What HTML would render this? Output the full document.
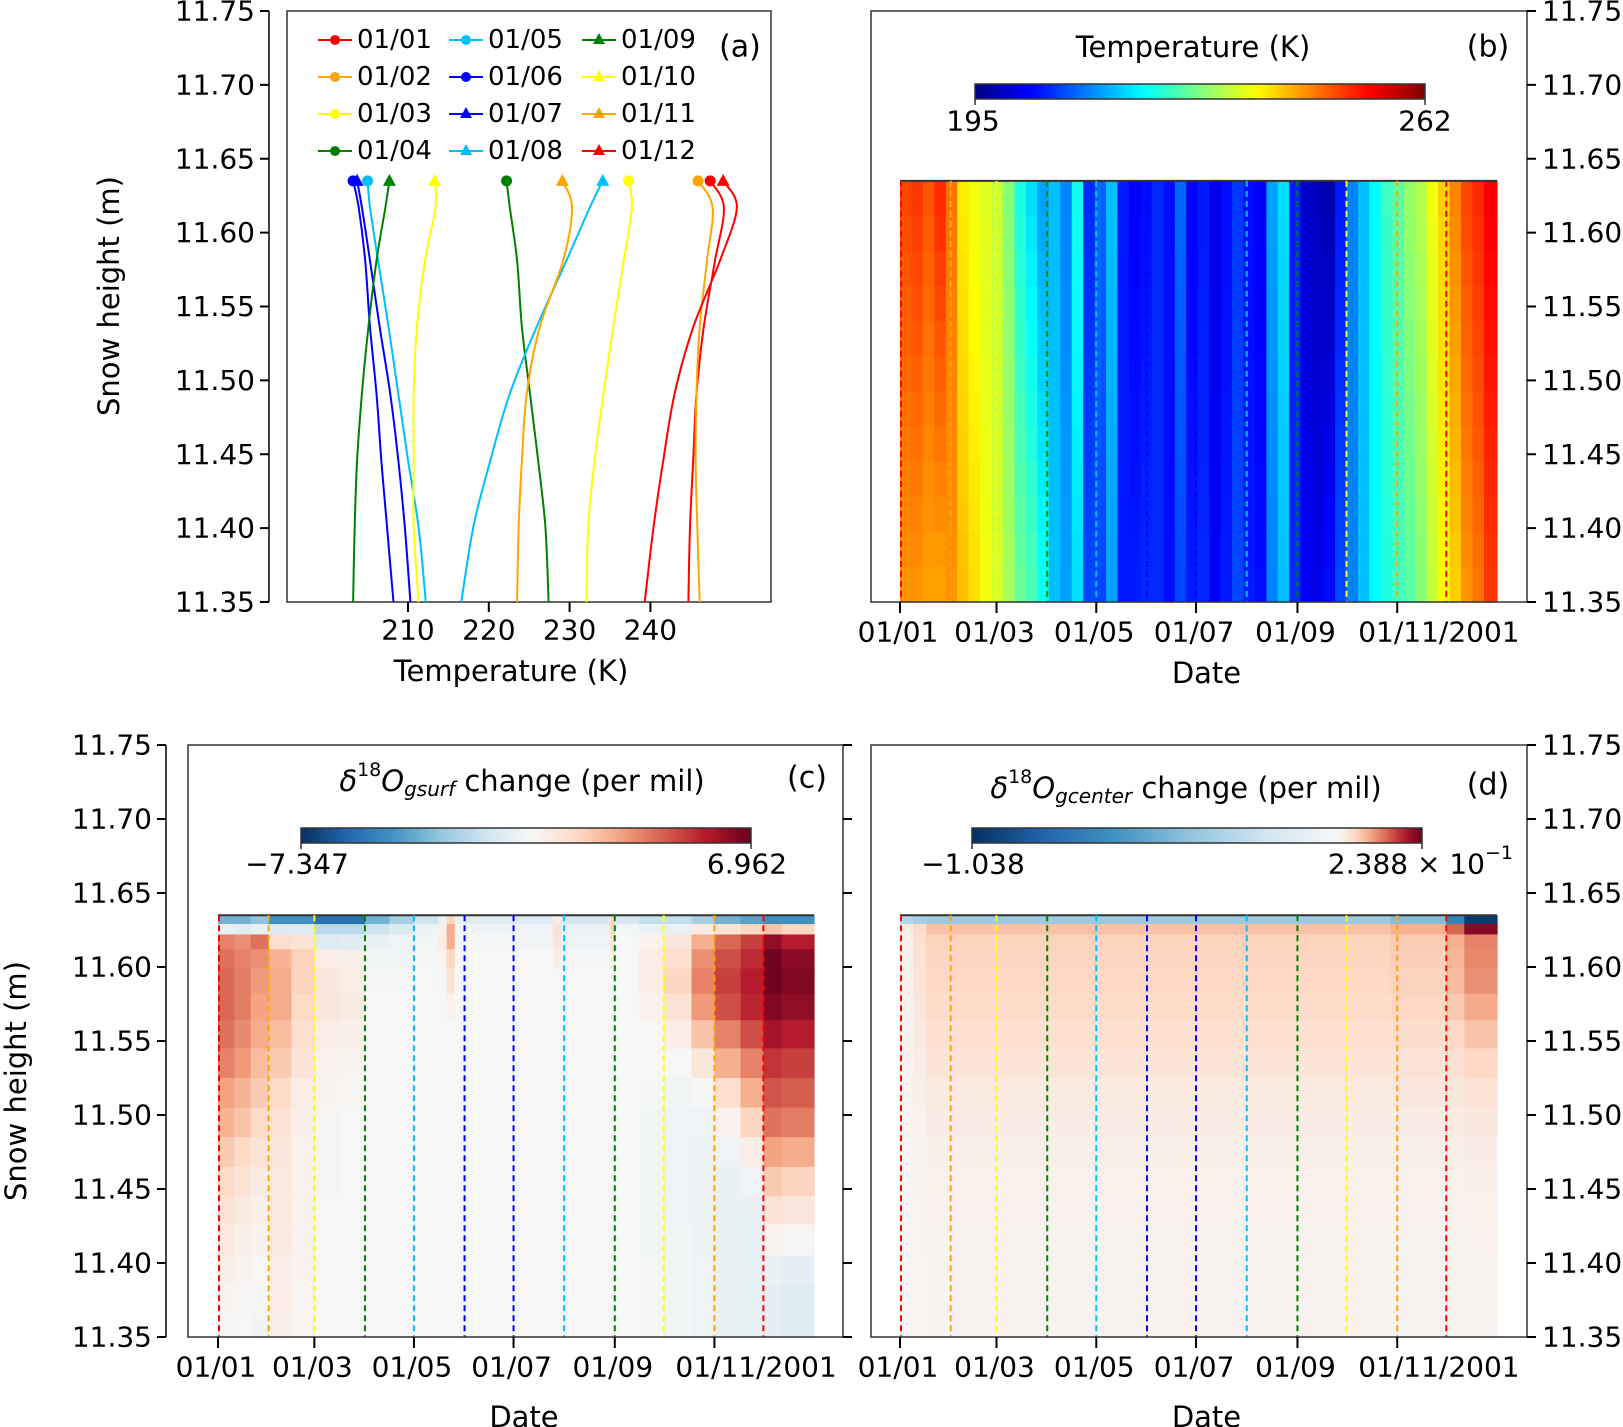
<!DOCTYPE html>
<html><head><meta charset="utf-8"><style>
html,body{margin:0;padding:0;background:#fff;}
svg{display:block;font-family:"DejaVu Sans","Liberation Sans",sans-serif;}
</style></head><body>
<svg id="fig" width="1623" height="1427" viewBox="0 0 1623 1427" xmlns="http://www.w3.org/2000/svg">
<g id="gA"></g>
<g id="gB"></g>
<g id="gC"></g>
<g id="gD"></g>
</svg>
<script>
// ---------- data ----------
const profileHeights = [11.635, 11.617, 11.581, 11.536, 11.491, 11.446, 11.401, 11.35];
const profileNames = ['01/01','01/02','01/03','01/04','01/05','01/06','01/07','01/08','01/09','01/10','01/11','01/12'];
const profileColors = ['#ff0000','#ffa500','#ffff00','#008000','#00bfff','#0000ff','#0000ff','#00bfff','#008000','#ffff00','#ffa500','#ff0000'];
const profileMarkers = ['o','o','o','o','o','o','^','^','^','^','^','^'];
const t0101 = [247.4, 249.1, 248.0, 246.6, 245.7, 245.3, 244.9, 244.7];
const t0102 = [245.9, 247.7, 247.0, 246.1, 245.7, 245.6, 245.8, 246.1];
const t0103 = [237.3, 237.7, 236.7, 235.4, 234.2, 233.1, 232.3, 232.1];
const t0104 = [222.2, 222.6, 223.5, 224.1, 225.1, 226.1, 227.0, 227.4];
const t0105 = [205.0, 205.3, 206.3, 207.6, 208.8, 210.0, 211.3, 212.2];
const t0106 = [203.2, 203.9, 204.7, 205.3, 206.1, 206.7, 207.4, 208.2];
const t0107 = [203.7, 204.3, 205.3, 206.5, 207.8, 208.8, 209.6, 210.3];
const t0108 = [234.1, 232.5, 229.6, 225.9, 222.6, 220.2, 218.1, 216.6];
const t0109 = [207.7, 207.2, 206.1, 205.1, 204.3, 203.7, 203.4, 203.2];
const t0110 = [213.3, 213.4, 212.1, 211.1, 210.7, 210.7, 210.7, 211.3];
const t0111 = [229.1, 230.3, 229.2, 226.3, 224.7, 224.1, 223.7, 223.5];
const t0112 = [249.0, 250.7, 248.6, 245.3, 243.0, 241.6, 240.4, 239.3];
const aTicks = [210, 220, 230, 240];
const hTicks = [11.75, 11.70, 11.65, 11.60, 11.55, 11.50, 11.45, 11.40, 11.35];
const monthStarts = [0,31,59,90,120,151,181,212,243,273,304,334];
const monthColors = ['#ff0000','#ffa500','#ffff00','#008000','#00bfff','#0000ff','#0000ff','#00bfff','#008000','#ffff00','#ffa500','#ff0000'];
const dateTickMonths = [0,2,4,6,8,10];
const dateTickLabels = ['01/01','01/03','01/05','01/07','01/09','01/11/2001'];
// panel b weekly surface temperature (top of column / bottom of column)
const bTopWeekly = [249,250,248,251,246, 238,236,235,233, 229,222,218,214, 216,212,221,206, 210,216,205,203,204, 206,204,210,203, 205,202,204,207, 204,203,214,218,205, 200,199,198,205, 212,216,220,224,226, 230,232,236,240, 245,249,251,254];
const bBotWeekly = [244,244,243,243,244, 241,239,236,234, 231,227,225,221, 216,214,218,208, 208,214,205,205,206, 206,204,208,205, 206,203,205,208, 205,204,212,216,206, 203,202,204,208, 212,216,220,222,224, 226,229,233,237, 240,244,246,250];
const tMin = 195, tMax = 262;
// layer boundaries (m) for panels c,d
const layerBounds = [11.635,11.629,11.622,11.612,11.599,11.582,11.564,11.545,11.525,11.505,11.485,11.465,11.445,11.426,11.405,11.385,11.366,11.35];
const cStarts = [0,10,20,31,45,59,75,90,105,120,135,140,145,151,181,205,210,240,243,258,273,290,304,320,334,345,365];
const cCols = [
[-3.5,-0.5,3.5,3.8,4,4,3.8,3.5,2.8,2.4,1.8,1.4,1.0,0.7,0.4,0.2,0.1],
[-3.5,-0.8,3.2,3.5,3.6,3.6,3.3,3,2.4,2.0,1.4,1.0,0.7,0.4,0.2,0.1,0],
[-3,-0.5,3.8,3.2,3.0,2.8,2.6,2.2,1.8,1.4,1.0,0.6,0.4,0.2,0,-0.1,-0.2],
[-4.5,-1,1.2,2.4,2.6,2.6,2.2,1.8,1.3,1,0.8,0.7,0.7,0.6,0.5,0.5,0.4],
[-4.5,-1,1,1.6,1.6,1.4,1.2,0.9,0.5,0.4,0.3,0.3,0.3,0.2,0.2,0.1,0.1],
[-5.5,-2,-1,0.5,0.8,0.8,0.5,0.3,0.2,0.1,0.1,0.1,0,0,0,0,0],
[-5.5,-2,-0.8,0.4,0.5,0.6,0.4,0.2,0.1,0,0,0,0,0,0,0,0],
[-3.5,-1.5,-0.5,-0.2,-0.1,0,0,0,0,0,0,0,0,0,0,0,0],
[-2.5,-1,-0.3,-0.2,-0.1,0,0,0,0,0,0,0,0,0,0,0,0],
[-1.5,-0.4,-0.2,-0.1,0,0,0,0,0,0,0,0,0,0,0,0,0],
[-0.5,0.3,0.5,0.3,0.1,0,0,0,0,0,0,0,0,0,0,0,0],
[1.5,2.5,2.5,1.5,1,0.3,0,0,0,0,0,0,0,0,0,0,0],
[-0.5,0,0,0,0,0,0,0,0,0,0,0,0,0,0,0,0],
[-0.8,-0.3,-0.1,0,0,0,0,0,0,0,0,0,0,0,0,0,0],
[-1,-0.3,-0.2,0,0,0,0,0,0,0,0,0,0,0,0,0,0],
[0.5,1,0.8,0.5,0,0,0,0,0,0,0,0,0,0,0,0,0],
[-1.2,-0.5,-0.3,-0.1,0,0,0,0,0,0,0,0,0,0,0,0,0],
[1.5,1.5,1,0.5,0,0,0,0,0,0,0,0,0,0,0,0,0],
[-1.2,-0.2,0,0,0,0,0,0,0,0,0,0,0,0,0,0,0],
[-1.8,-0.5,0.3,0.5,0.5,0.3,0,0,-0.1,-0.2,-0.2,-0.2,-0.2,-0.2,-0.1,-0.1,-0.1],
[-1.8,-0.5,0.8,1.2,1.5,1,0.5,0,-0.2,-0.3,-0.3,-0.3,-0.3,-0.2,-0.2,-0.2,-0.2],
[-2.5,0.5,2.5,3.2,3.5,3,2,0.8,-0.1,-0.3,-0.4,-0.4,-0.4,-0.4,-0.3,-0.3,-0.3],
[-3.5,1,4,4.5,4.8,4.5,3.5,2.5,1.2,0.3,-0.3,-0.5,-0.5,-0.5,-0.5,-0.5,-0.5],
[-4,1.5,4.8,5.2,5.5,5.3,4.5,3.5,2.5,1.5,0.5,-0.3,-0.5,-0.6,-0.6,-0.6,-0.6],
[-4.5,2,6.2,6.8,6.8,6.5,5.8,5,4.4,3.8,2.8,1.8,1.0,0.3,-0.5,-0.7,-0.7],
[-4.5,1.5,5.5,6.3,6.5,6.2,5.5,4.8,4.2,3.6,2.6,1.6,0.8,0.1,-0.7,-0.9,-0.9]
];
const cMin = -7.347, cMax = 6.962;
const dStarts = [0,8,16,300,334,345,365];
const dCols = [
[-0.3,0.02,0.012,0.012,0.012,0.01,0.008,0.006,0.005,0.004,0.004,0.003,0.003,0.003,0.003,0.003,0.003],
[-0.35,0.045,0.038,0.035,0.032,0.028,0.023,0.018,0.014,0.011,0.009,0.008,0.007,0.006,0.005,0.005,0.005],
[-0.38,0.07,0.055,0.052,0.05,0.045,0.038,0.03,0.023,0.018,0.014,0.012,0.01,0.009,0.008,0.007,0.007],
[-0.45,0.085,0.06,0.058,0.055,0.05,0.042,0.033,0.025,0.019,0.015,0.012,0.01,0.009,0.008,0.007,0.007],
[-0.7,0.14,0.085,0.08,0.075,0.062,0.05,0.037,0.027,0.02,0.015,0.012,0.01,0.009,0.008,0.007,0.007],
[-1.0,0.22,0.12,0.115,0.11,0.09,0.068,0.05,0.035,0.025,0.018,0.014,0.011,0.01,0.009,0.008,0.007]
];
const dMin = -1.038, dMax = 0.2388;

// ---------- helpers ----------
const NS = 'http://www.w3.org/2000/svg';
function el(parent, tag, attrs){ const e = document.createElementNS(NS, tag); for(const k in attrs) e.setAttribute(k, attrs[k]); parent.appendChild(e); return e; }
function txt(parent, x, y, s, size, anchor, name){
  const t = el(parent,'text',{x:x,y:y,'font-size':size,'text-anchor':anchor||'middle','dominant-baseline':'central',fill:'#000'});
  t.textContent = s;
  
  
  return t;
}
function lerp(a,b,t){return a+(b-a)*t;}
function jet(v){
  v=Math.max(0,Math.min(1,v));
  const r=Math.max(0,Math.min(1,1.5-Math.abs(4*v-3)));
  const g=Math.max(0,Math.min(1,1.5-Math.abs(4*v-2)));
  const b=Math.max(0,Math.min(1,1.5-Math.abs(4*v-1)));
  return 'rgb('+Math.round(r*255)+','+Math.round(g*255)+','+Math.round(b*255)+')';
}
const rdbuStops = ['#053061','#2166ac','#4393c3','#92c5de','#d1e5f0','#f7f7f7','#fddbc7','#f4a582','#d6604d','#b2182b','#67001f'];
function hex(h){return [parseInt(h.substr(1,2),16),parseInt(h.substr(3,2),16),parseInt(h.substr(5,2),16)];}
function rdbu(t){
  t=Math.max(0,Math.min(1,t)); const p=t*10, i=Math.min(9,Math.floor(p)), f=p-i;
  const a=hex(rdbuStops[i]), b=hex(rdbuStops[i+1]);
  return 'rgb('+Math.round(lerp(a[0],b[0],f))+','+Math.round(lerp(a[1],b[1],f))+','+Math.round(lerp(a[2],b[2],f))+')';
}
function twoSlope(v, vmin, vmax){ return v<0 ? 0.5*(v-vmin)/(-vmin) : 0.5+0.5*v/vmax; }
function smoothPath(P){
  let d='M'+P[0][0].toFixed(1)+','+P[0][1].toFixed(1);
  for(let i=0;i<P.length-1;i++){
    const p0=P[Math.max(0,i-1)], p1=P[i], p2=P[i+1], p3=P[Math.min(P.length-1,i+2)];
    const c1=[p1[0]+(p2[0]-p0[0])/6, p1[1]+(p2[1]-p0[1])/6];
    const c2=[p2[0]-(p3[0]-p1[0])/6, p2[1]-(p3[1]-p1[1])/6];
    d+=' C'+c1[0].toFixed(1)+','+c1[1].toFixed(1)+' '+c2[0].toFixed(1)+','+c2[1].toFixed(1)+' '+p2[0].toFixed(1)+','+p2[1].toFixed(1);
  }
  return d;
}

// ---------- layouts ----------
const yTop = (h)=> 11 + (11.75-h)/0.4*591;
const yBot = (h)=> 745 + (11.75-h)/0.4*592;
const xA = (T)=> 408 + (T-210)*8.08;

// ================= Panel A =================
(function(){
  const g = document.getElementById('gA');
  const box = el(g,'rect',{x:287,y:11,width:484,height:591,fill:'none',stroke:'#333','stroke-width':1.5});
   
  const sp = el(g,'line',{x1:269,y1:11,x2:269,y2:602,stroke:'#000','stroke-width':1.5});
   
  hTicks.forEach(h=>{
    const y=yTop(h);
    const tk=el(g,'line',{x1:260,y1:y,x2:269,y2:y,stroke:'#000','stroke-width':2});
     
    txt(g,255,y,h.toFixed(2),28,'end','y-tick-label-a');
  });
  aTicks.forEach(T=>{
    const x=xA(T);
    const tk=el(g,'line',{x1:x,y1:602,x2:x,y2:612,stroke:'#000','stroke-width':2});
     
    txt(g,x,630,String(T),28,'middle','x-tick-label-a');
  });
  txt(g,511,671,'Temperature (K)',29,'middle','x-axis-title-a');
  const yl = txt(g,0,0,'Snow height (m)',29,'middle','y-axis-title-a');
  yl.setAttribute('transform','translate(109,296) rotate(-90)');
  txt(g,740,47,'(a)',30,'middle','panel-label-a');
  const series = [t0101,t0102,t0103,t0104,t0105,t0106,t0107,t0108,t0109,t0110,t0111,t0112];
  series.forEach((s,i)=>{
    const P = s.map((T,j)=>[xA(T), yTop(profileHeights[j])]);
    const pl = el(g,'path',{d:smoothPath(P),fill:'none',stroke:profileColors[i],'stroke-width':2,'stroke-linejoin':'round'});
    
    
    const mx=xA(s[0]), my=yTop(profileHeights[0]);
    let m;
    if(profileMarkers[i]==='o') m = el(g,'circle',{cx:mx,cy:my,r:5.5,fill:profileColors[i]});
    else m = el(g,'polygon',{points:(mx)+','+(my-7)+' '+(mx-6.5)+','+(my+5)+' '+(mx+6.5)+','+(my+5),fill:profileColors[i]});
    
    
  });
  // legend
  const colX=[318,449,582], rowY=[40,77,114,151];
  profileNames.forEach((n,i)=>{
    const c=Math.floor(i/4), r=i%4, x=colX[c], y=rowY[r];
    const lg = el(g,'g',{});
    
    
    el(lg,'line',{x1:x,y1:y,x2:x+34,y2:y,stroke:profileColors[i],'stroke-width':2});
    const mx=x+17;
    if(profileMarkers[i]==='o') el(lg,'circle',{cx:mx,cy:y,r:5,fill:profileColors[i]});
    else el(lg,'polygon',{points:mx+','+(y-7)+' '+(mx-6)+','+(y+4)+' '+(mx+6)+','+(y+4),fill:profileColors[i]});
    txt(lg,x+39,y,n,26,'start','legend-label');
  });
})();

// ------- date axis helper -------
function dateAxis(g, x0, x1, yAxis, labelY, titleY, suffix){
  const xd = (d)=> x0 + d/365*(x1-x0);
  dateTickMonths.forEach((m,i)=>{
    const x=xd(monthStarts[m]);
    const tk=el(g,'line',{x1:x,y1:yAxis,x2:x,y2:yAxis+11,stroke:'#000','stroke-width':2});
     
    const lbl=dateTickLabels[i];
    if(lbl.length>5) txt(g,x-39,labelY,lbl,28,'start','date-tick-label-'+suffix);
    else txt(g,x-2,labelY,lbl,28,'middle','date-tick-label-'+suffix);
  });
  txt(g,(x0+x1)/2+8,titleY,'Date',29,'middle','x-axis-title-'+suffix);
  return xd;
}
function monthLines(g, xd, yT, yB, suffix){
  monthStarts.forEach((d,i)=>{
    const x=xd(d)+(i===0?1:0);
    const ln=el(g,'line',{x1:x,y1:yT,x2:x,y2:yB,stroke:monthColors[i],'stroke-width':2,'stroke-dasharray':'6,4'});
     
  });
}
function rightAxis(g, x, yf, withLabels, suffix){
  hTicks.forEach(h=>{
    const y=yf(h);
    const tk=el(g,'line',{x1:x,y1:y,x2:x+9,y2:y,stroke:'#000','stroke-width':2});
     
    if(withLabels) txt(g,x+15,y,h.toFixed(2),28,'start','right-tick-label-'+suffix);
  });
}
function gradBar(g, id, x, y, w, h, stopsFn, name){
  const defs = el(g,'defs',{});
  const lg = el(defs,'linearGradient',{id:id,x1:0,y1:0,x2:1,y2:0});
  for(let i=0;i<=60;i++){ const p=i/60; el(lg,'stop',{offset:p,'stop-color':stopsFn(p)}); }
  const r = el(g,'rect',{x:x,y:y,width:w,height:h,fill:'url(#'+id+')',stroke:'#333','stroke-width':1.5});
   
  el(g,'line',{x1:x,y1:y+h,x2:x,y2:y+h+6,stroke:'#333','stroke-width':1.5});
  el(g,'line',{x1:x+w,y1:y+h,x2:x+w,y2:y+h+6,stroke:'#333','stroke-width':1.5});
}
function barPos(p, vmin, vmax){
  const v = vmin + p*(vmax-vmin);
  return twoSlope(v, vmin, vmax);
}

// ================= Panel B =================
(function(){
  const g=document.getElementById('gB');
  const x0=900, x1=1497;
  const xd=(d)=> x0 + d/365*(x1-x0);
  const nRows=12, yT=yTop(11.635), yB=602, rh=(yB-yT)/nRows;
  bTopWeekly.forEach((tt,w)=>{
    for(let r=0;r<nRows;r++){
      const f=r/(nRows-1);
      const T=lerp(tt,bBotWeekly[w],f);
      const xa=xd(w*7), xb=xd(Math.min(365,(w+1)*7+(w===51?1:0)));
      const c=el(g,'rect',{x:xa,y:yT+r*rh,width:xb-xa+0.6,height:rh+0.6,fill:jet((T-tMin)/(tMax-tMin))});
       
    }
  });
  el(g,'line',{x1:x0,y1:yT,x2:x1,y2:yT,stroke:'#333','stroke-width':2});
  monthLines(g, xd, yT, yB, 'b');
  const box=el(g,'rect',{x:871,y:11,width:656,height:591,fill:'none',stroke:'#333','stroke-width':1.5});
   
  rightAxis(g,1527,yTop,true,'b');
  dateAxis(g,x0,x1,602,632,673,'b');
  gradBar(g,'gradB',975,84,450,15,(p)=>jet(p),'colorbar-b');
  txt(g,1193,47,'Temperature (K)',29,'middle','colorbar-title-b');
  txt(g,973,121,'195',28,'middle','colorbar-min-b');
  txt(g,1425,121,'262',28,'middle','colorbar-max-b');
  txt(g,1488,47,'(b)',30,'middle','panel-label-b');
})();

// ================= Panels C & D =================
function isoPanel(gid, boxX, boxW, x0, x1, starts, cols, vmin, vmax, suffix){
  const g=document.getElementById(gid);
  const xd=(d)=> x0 + d/365*(x1-x0);
  cols.forEach((col,ci)=>{
    const xa=xd(starts[ci]), xb=xd(starts[ci+1]);
    col.forEach((v,r)=>{
      const ya=yBot(layerBounds[r]), yb=yBot(layerBounds[r+1]);
      const c=el(g,'rect',{x:xa,y:ya,width:xb-xa+0.6,height:yb-ya+0.6,fill:rdbu(twoSlope(v,vmin,vmax))});
       
    });
  });
  el(g,'line',{x1:x0,y1:yBot(11.635),x2:x1,y2:yBot(11.635),stroke:'#333','stroke-width':2});
  monthLines(g, xd, yBot(11.635), 1337, suffix);
  const box=el(g,'rect',{x:boxX,y:745,width:boxW,height:592,fill:'none',stroke:'#333','stroke-width':1.5});
   
  dateAxis(g,x0,x1,1337,1367,1417,suffix);
  return g;
}
(function(){
  const g=isoPanel('gC',188,655,218,814,cStarts,cCols,cMin,cMax,'c');
  const sp=el(g,'line',{x1:166,y1:745,x2:166,y2:1337,stroke:'#000','stroke-width':1.5});
   
  hTicks.forEach(h=>{
    const y=yBot(h);
    el(g,'line',{x1:157,y1:y,x2:166,y2:y,stroke:'#000','stroke-width':2});
    txt(g,152,y,h.toFixed(2),28,'end','y-tick-label-c');
  });
  rightAxis(g,843,yBot,false,'c');
  const yl=txt(g,0,0,'Snow height (m)',29,'middle','y-axis-title-c');
  yl.setAttribute('transform','translate(16,1081) rotate(-90)');
  gradBar(g,'gradC',301,828,450,15,(p)=>rdbu(barPos(p,cMin,cMax)),'colorbar-c');
  const t=el(g,'text',{x:522,y:781,'font-size':29,'text-anchor':'middle','dominant-baseline':'central'});
   
  t.innerHTML='<tspan font-style="italic">δ</tspan><tspan font-size="19" dy="-11">18</tspan><tspan font-style="italic" dy="11">O</tspan><tspan font-style="italic" font-size="20" dy="8">gsurf</tspan><tspan dy="-8"> change (per mil)</tspan>';
  txt(g,297,864,'−7.347',28,'middle','colorbar-min-c');
  txt(g,747,864,'6.962',28,'middle','colorbar-max-c');
  txt(g,807,778,'(c)',30,'middle','panel-label-c');
})();
(function(){
  const g=isoPanel('gD',871,656,900,1497,dStarts,dCols,dMin,dMax,'d');
  rightAxis(g,1527,yBot,true,'d');
  gradBar(g,'gradD',972,828,450,15,(p)=>rdbu(barPos(p,dMin,dMax)),'colorbar-d');
  const t=el(g,'text',{x:1186,y:788,'font-size':29,'text-anchor':'middle','dominant-baseline':'central'});
   
  t.innerHTML='<tspan font-style="italic">δ</tspan><tspan font-size="19" dy="-11">18</tspan><tspan font-style="italic" dy="11">O</tspan><tspan font-style="italic" font-size="20" dy="8">gcenter</tspan><tspan dy="-8"> change (per mil)</tspan>';
  txt(g,973,864,'−1.038',28,'middle','colorbar-min-d');
  const mx=el(g,'text',{x:1513,y:864,'font-size':28,'text-anchor':'end','dominant-baseline':'central'});
   
  mx.innerHTML='2.388 × 10<tspan font-size="19" dy="-11">−1</tspan>';
  txt(g,1488,785,'(d)',30,'middle','panel-label-d');
})();
</script>
</body></html>
